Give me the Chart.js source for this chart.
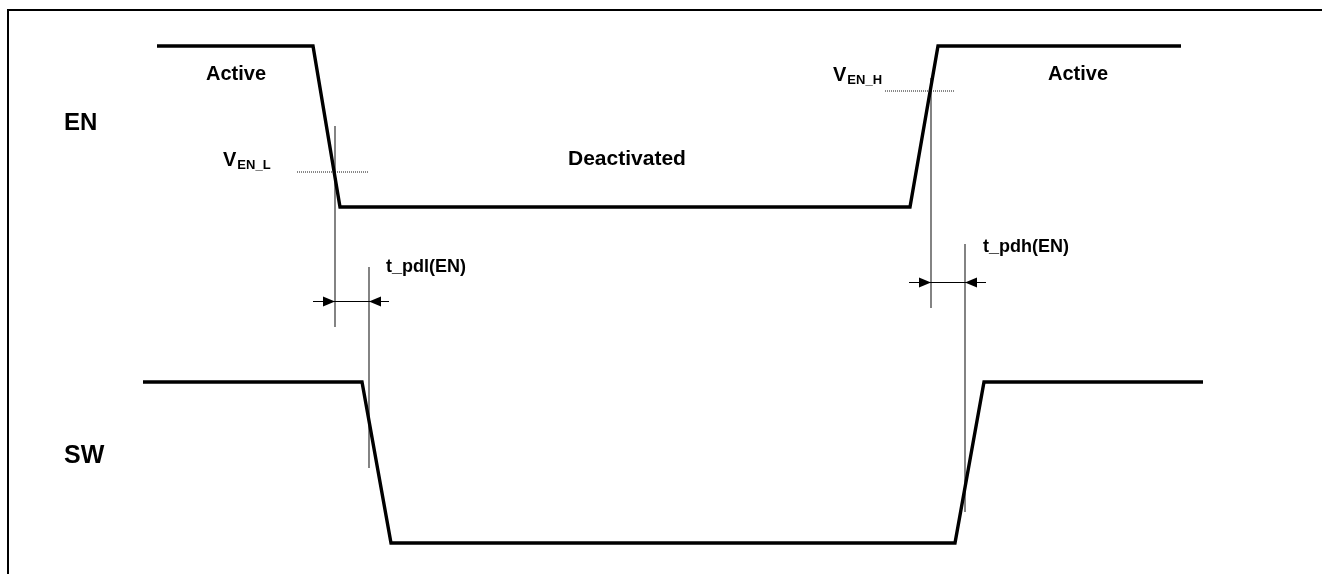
<!DOCTYPE html>
<html>
<head>
<meta charset="utf-8">
<script src="https://cdn.jsdelivr.net/npm/chart.js@4"></script>
<style>
  html, body { margin: 0; padding: 0; background: #fff; }
  #wrap { width: 1322px; height: 574px; }
</style>
</head>
<body>
<div id="wrap"><canvas id="timing" width="1322" height="574"></canvas></div>
<script>
// ===== DATA =====
// time axis and vertical position share the page grid (0..1322, 0..574 from the top)
const enTime  = [157, 313, 340, 910, 938, 1181];
const enLevel = [46, 46, 207, 207, 46, 46];

const swTime  = [143, 362, 391, 955, 984, 1203];
const swLevel = [382, 382, 543, 543, 382, 382];

// thin reference lines (delay markers)
const markerX      = [335, 369, 931, 965];
const markerTop    = [126, 267, 78, 244];
const markerBottom = [327, 468, 308, 512];

// threshold levels (dotted)
const thrStart = [297, 885];
const thrEnd   = [368, 954];
const thrLevel = [172, 91];

// delay dimension arrows
const arrowLevel = [301, 282];
const arrowStart = [313, 909];
const arrowEnd   = [389, 986];
const arrowTipL  = [335, 931];
const arrowTipR  = [369, 965];

// labels
const labelText = ['EN', 'SW', 'Active', 'Active', 'Deactivated', 't_pdl(EN)', 't_pdh(EN)'];
const labelX    = [64, 64, 206, 1048, 568, 386, 983];
const labelY    = [130, 463, 80, 80, 165, 272, 252];
const labelSize = [24, 25, 20, 20, 21, 18, 18];

// threshold names: main letter + subscript
const thrName = ['V', 'V'];
const thrSub  = ['EN_L', 'EN_H'];
const thrNameX = [223, 833];
const thrNameY = [166, 81];

// ===== HELPERS =====
const pts = (xs, ys) => xs.map((x, i) => ({ x, y: ys[i] }));

function segments(x1, y1, x2, y2) {
  const out = [];
  x1.forEach((x, i) => {
    out.push({ x, y: y1[i] }, { x: x2[i], y: y2[i] }, { x: x2[i], y: null });
  });
  return out;
}

const FONT = '"Liberation Sans", Arial, Helvetica, sans-serif';

// ===== PLUGINS =====
const frame = {
  id: 'frame',
  beforeDraw(chart) {
    const c = chart.ctx;
    c.save();
    c.strokeStyle = '#000';
    c.lineWidth = 2;
    c.beginPath();
    c.moveTo(8, 574);
    c.lineTo(8, 10);
    c.lineTo(1322, 10);
    c.stroke();
    c.restore();
  }
};

const annotations = {
  id: 'annotations',
  afterDatasetsDraw(chart) {
    const c = chart.ctx;
    const sx = chart.scales.x, sy = chart.scales.y;
    c.save();

    // arrows
    c.strokeStyle = '#000';
    c.fillStyle = '#000';
    c.lineWidth = 1;
    arrowLevel.forEach((lv, i) => {
      const y = sy.getPixelForValue(lv);
      const a = sx.getPixelForValue(arrowStart[i]);
      const b = sx.getPixelForValue(arrowEnd[i]);
      const tl = sx.getPixelForValue(arrowTipL[i]);
      const tr = sx.getPixelForValue(arrowTipR[i]);
      c.beginPath();
      c.moveTo(a, y + 0.5);
      c.lineTo(b, y + 0.5);
      c.stroke();
      // right-pointing head at left marker
      c.beginPath();
      c.moveTo(tl, y + 0.5);
      c.lineTo(tl - 12, y - 4.5);
      c.lineTo(tl - 12, y + 5.5);
      c.closePath();
      c.fill();
      // left-pointing head at right marker
      c.beginPath();
      c.moveTo(tr, y + 0.5);
      c.lineTo(tr + 12, y - 4.5);
      c.lineTo(tr + 12, y + 5.5);
      c.closePath();
      c.fill();
    });

    // labels
    c.fillStyle = '#000';
    c.textBaseline = 'alphabetic';
    labelText.forEach((t, i) => {
      c.font = 'bold ' + labelSize[i] + 'px ' + FONT;
      c.fillText(t, sx.getPixelForValue(labelX[i]), sy.getPixelForValue(labelY[i]));
    });

    thrName.forEach((t, i) => {
      const x = sx.getPixelForValue(thrNameX[i]);
      const y = sy.getPixelForValue(thrNameY[i]);
      c.font = 'bold 20px ' + FONT;
      c.fillText(t, x, y);
      const w = c.measureText(t).width;
      c.font = 'bold 13px ' + FONT;
      c.fillText(thrSub[i], x + w + 1, y + 3);
    });

    c.restore();
  }
};

// ===== CHART =====
const config = {
  type: 'scatter',
  data: {
    datasets: [
      {
        label: 'EN',
        data: pts(enTime, enLevel),
        showLine: true,
        borderColor: '#000',
        borderWidth: 3.4,
        pointRadius: 0,
        borderJoinStyle: 'miter'
      },
      {
        label: 'SW',
        data: pts(swTime, swLevel),
        showLine: true,
        borderColor: '#000',
        borderWidth: 3.4,
        pointRadius: 0,
        borderJoinStyle: 'miter'
      },
      {
        label: 'markers',
        data: segments(markerX, markerTop, markerX, markerBottom),
        showLine: true,
        spanGaps: false,
        borderColor: '#333',
        borderWidth: 1.2,
        pointRadius: 0
      },
      {
        label: 'thresholds',
        data: segments(thrStart, thrLevel, thrEnd, thrLevel),
        showLine: true,
        spanGaps: false,
        borderColor: '#111',
        borderWidth: 1,
        borderDash: [1, 1],
        pointRadius: 0
      }
    ]
  },
  options: {
    responsive: false,
    animation: false,
    events: [],
    layout: { padding: 0 },
    scales: {
      x: { type: 'linear', min: 0, max: 1322, display: false },
      y: { type: 'linear', min: 0, max: 574, reverse: true, display: false }
    },
    plugins: {
      legend: { display: false },
      tooltip: { enabled: false }
    }
  },
  plugins: [frame, annotations]
};

new Chart(document.getElementById('timing'), config);
</script>
</body>
</html>
